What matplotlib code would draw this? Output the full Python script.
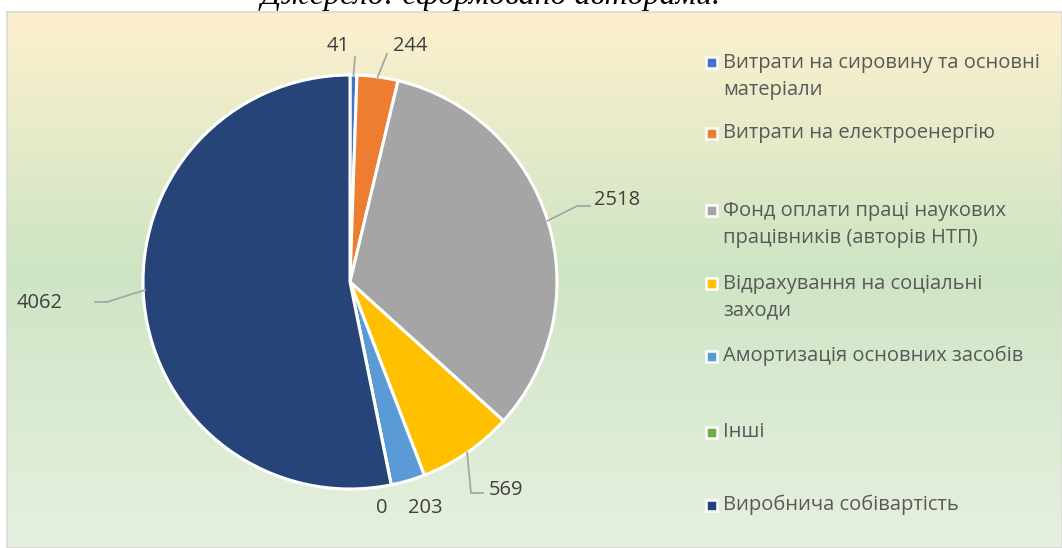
import numpy as np
import matplotlib
matplotlib.use("Agg")
import matplotlib.pyplot as plt
from matplotlib.colors import LinearSegmentedColormap
from matplotlib.patches import Rectangle

plt.rcParams['font.family'] = ['Open Sans', 'DejaVu Sans']

# data
categories = ["Витрати на сировину та основні\nматеріали",
              "Витрати на електроенергію",
              "Фонд оплати праці наукових\nпрацівників (авторів НТП)",
              "Відрахування на соціальні\nзаходи",
              "Амортизація основних засобів",
              "Інші",
              "Виробнича собівартість"]
values = [41, 244, 2518, 569, 203, 0, 4062]
colors = ["#4472C4", "#ED7D31", "#A5A5A5", "#FFC000", "#5B9BD5", "#70AD47", "#264478"]

# layout (pixels)
W, H = 1062, 548
cx, cy, R = 350, 282, 207
label_pos = [(338, 46), (410, 46), (617, 200), (506, 490), (425, 508), (382, 508), (40, 303)]
label_start = [None, None, None, None, None, None, (145, 290)]
label_elbow = [(355, 57), (387, 54), [(577, 206), (590, 206)], [(471, 493), (483, 493)], None, None,
               [(107, 302), (95, 302)]]
legend_y = [62, 133, 210, 283, 356, 432, 505]

fig = plt.figure(figsize=(W / 100, H / 100), dpi=100)

# background gradient of the chart area
bg = fig.add_axes([7 / W, 0, 1 - 7 / W, (H - 12) / H])
cmap = LinearSegmentedColormap.from_list("bg", [(0, "#FDF0CE"), (0.48, "#CEE5C4"), (1, "#E6F0DF")])
bg.imshow(np.linspace(0, 1, 256).reshape(-1, 1), aspect='auto', cmap=cmap, extent=[0, 1, 0, 1])
bg.set_xticks([])
bg.set_yticks([])
for s in bg.spines.values():
    s.set_color("#D9D9D9")
    s.set_linewidth(1.2)

ax = fig.add_axes([0, 0, 1, 1])


def px(x, y):
    return (x - cx) / R, (cy - y) / R


wedges, _ = ax.pie(values, colors=colors, startangle=90, counterclock=False, radius=1,
                   wedgeprops=dict(edgecolor='white', linewidth=2.2))
ax.set_aspect('auto')
ax.set_xlim(-cx / R, (W - cx) / R)
ax.set_ylim(-(H - cy) / R, cy / R)
ax.axis('off')

for w, v, pos, st, elb in zip(wedges, values, label_pos, label_start, label_elbow):
    tx, ty = px(*pos)
    ax.text(tx, ty, str(v), ha='center', va='center', fontsize=14.5, color='#404040')
    if elb is None:
        continue
    if st is None:
        th = np.deg2rad((w.theta1 + w.theta2) / 2)
        pts = [(np.cos(th), np.sin(th))]
    else:
        pts = [px(*st)]
    if isinstance(elb, tuple):
        elb = [elb]
    pts += [px(*p) for p in elb]
    xs, ys = zip(*pts)
    ax.plot(xs, ys, color='#A6A6A6', lw=1.3)

# legend
for name, c, y in zip(categories, colors, legend_y):
    mx, my = px(711, y)
    s = 11 / R
    ax.add_patch(Rectangle((mx - s / 2, my - s / 2), s, s, facecolor=c, edgecolor='white', lw=1.8))
    tx, ty = px(723, y)
    if '\n' in name:
        ty -= 14.5 / R
    ax.text(tx, ty, name, ha='left', va='center', fontsize=14.5, color='#595959', linespacing=1.42)

fig.text(490 / W, 1 - 4 / H, "Джерело: сформовано авторами.", ha='center', va='baseline',
         fontsize=23, style='italic', family=['Liberation Serif', 'DejaVu Serif'])

fig.savefig("out.png", dpi=100)
